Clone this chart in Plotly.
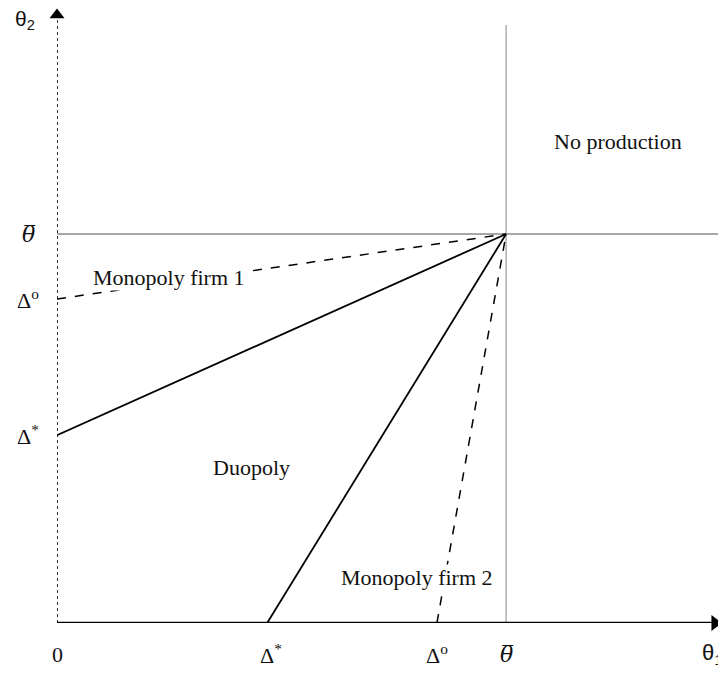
import plotly.graph_objects as go

# ---- values (theta_bar normalised to 1) ----
theta_bar = 1.0
delta_star_x = 0.468
delta_o_x = 0.846
delta_star_y = 0.483
delta_o_y = 0.833
x_max = 1.483
y_max = 1.581
y_grid_top = 1.537

x_tick_vals = [0.0, delta_star_x, delta_o_x, theta_bar, 1.46]
x_tick_text = ["0", "Δ<sup>*</sup>", "Δ<sup>o</sup>", "<i>θ̅</i>", "θ<sub>1</sub>"]
y_tick_vals = [theta_bar, delta_o_y, delta_star_y]
y_tick_text = ["<i>θ̅</i>", "Δ<sup>o</sup>", "Δ<sup>*</sup>"]

region_labels = ["No production", "Monopoly firm 1", "Duopoly", "Monopoly firm 2"]
region_x = [1.249, 0.249, 0.432, 0.802]
region_y = [1.239, 0.889, 0.401, 0.118]
region_bg = [None, "white", None, "white"]

SERIF = "Liberation Serif"
SANS = "Liberation Sans"
BAR_FONT = "DejaVu Serif"

fig = go.Figure()

# gray threshold lines
fig.add_trace(go.Scatter(x=[theta_bar, theta_bar], y=[0, y_grid_top], mode="lines",
                         line=dict(color="#9a9a9a", width=1.2), hoverinfo="skip"))
fig.add_trace(go.Scatter(x=[0, x_max], y=[theta_bar, theta_bar], mode="lines",
                         line=dict(color="#8a8a8a", width=1.6), hoverinfo="skip", cliponaxis=False))

# boundaries
fig.add_trace(go.Scatter(x=[0, theta_bar], y=[delta_o_y, theta_bar], mode="lines",
                         line=dict(color="black", width=1.5, dash="dash"), hoverinfo="skip"))
fig.add_trace(go.Scatter(x=[0, theta_bar], y=[delta_star_y, theta_bar], mode="lines",
                         line=dict(color="black", width=1.8), hoverinfo="skip"))
fig.add_trace(go.Scatter(x=[delta_star_x, theta_bar], y=[0, theta_bar], mode="lines",
                         line=dict(color="black", width=1.8), hoverinfo="skip"))
fig.add_trace(go.Scatter(x=[delta_o_x, theta_bar], y=[0, theta_bar], mode="lines",
                         line=dict(color="black", width=1.5, dash="dash"), hoverinfo="skip"))

# axes
fig.add_trace(go.Scatter(x=[0, 0], y=[0, y_max - 0.03], mode="lines",
                         line=dict(color="black", width=1.6, dash="dot"), hoverinfo="skip",
                         cliponaxis=False))
fig.add_trace(go.Scatter(x=[0, x_max - 0.02], y=[0, 0], mode="lines",
                         line=dict(color="black", width=2.4), hoverinfo="skip", cliponaxis=False))
fig.add_trace(go.Scatter(x=[0], y=[y_max - 0.018], mode="markers",
                         marker=dict(symbol="triangle-up", size=13, color="black"),
                         hoverinfo="skip", cliponaxis=False))
fig.add_trace(go.Scatter(x=[x_max - 0.018], y=[0], mode="markers",
                         marker=dict(symbol="triangle-right", size=14, color="black"),
                         hoverinfo="skip", cliponaxis=False))

ann = []
for t, x, y, bg in zip(region_labels, region_x, region_y, region_bg):
    a = dict(x=x, y=y, xref="x", yref="y", text=t, showarrow=False,
             font=dict(family=SERIF, size=22, color="#111"), xanchor="center", yanchor="middle")
    if bg:
        a["bgcolor"] = bg
        a["borderpad"] = 0
    ann.append(a)

for v, t in zip(x_tick_vals, x_tick_text):
    if "θ<sub>" in t:
        fam = SANS
    elif "θ" in t:
        fam = BAR_FONT
    else:
        fam = SERIF
    ann.append(dict(x=v, y=0, xref="x", yref="y", text=t, showarrow=False, yshift=-31,
                    xshift=4 if t.startswith("Δ<sup>*") else 0,
                    font=dict(family=fam, size=22, color="#111"), xanchor="center", yanchor="middle"))
for v, t in zip(y_tick_vals, y_tick_text):
    fam = BAR_FONT if "θ" in t else SERIF
    ann.append(dict(x=0, y=v, xref="x", yref="y", text=t, showarrow=False, xshift=-29,
                    font=dict(family=fam, size=22, color="#111"), xanchor="center", yanchor="middle"))
ann.append(dict(x=0, y=y_max, xref="x", yref="y", text="θ<sub>2</sub>", showarrow=False,
                xshift=-32, yshift=-12,
                font=dict(family=SANS, size=21, color="#111"), xanchor="center", yanchor="middle"))

fig.update_layout(
    width=718, height=669,
    margin=dict(l=49, r=3, t=0, b=54),
    paper_bgcolor="white", plot_bgcolor="white",
    showlegend=False,
    xaxis=dict(range=[0, x_max], visible=False, fixedrange=True),
    yaxis=dict(range=[0, y_max], visible=False, fixedrange=True),
    annotations=ann,
)

fig.write_html("out.html")
